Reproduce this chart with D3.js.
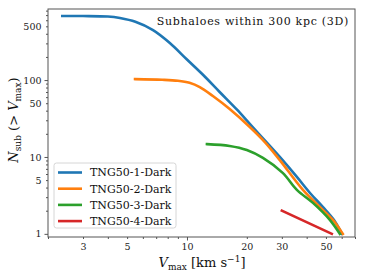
<!DOCTYPE html>
<html lang="en">
<head>
<meta charset="utf-8">
<title>Subhalo Vmax function</title>
<script src="https://cdn.jsdelivr.net/npm/d3@7"></script>
<style>
body { margin: 0; background: #fff; }
svg text { font-family: "DejaVu Serif", "DejaVu Sans", sans-serif; }
.axis path, .axis line { stroke: #555; }
.axis text { fill: #222; font-size: 9.5px; }
</style>
</head>
<body>
<div id="container"></div>
<script>
// data: Vmax [km/s] and N(>Vmax)
var seriesNames = ["TNG50-1-Dark", "TNG50-2-Dark", "TNG50-3-Dark", "TNG50-4-Dark"];
var seriesColors = ["#1f77b4", "#ff7f0e", "#2ca02c", "#d62728"];
var vmax1 = [2.36, 3.0, 4.0, 4.6, 5.5, 6.75, 8.2, 10, 12, 14.6, 17.8, 20.7, 24.7, 29.3, 35.7, 42, 48.2, 55, 60.1];
var nsub1 = [680, 680, 670, 640, 572, 446, 303, 185, 118, 70, 41.5, 27, 16.3, 10, 5.5, 3.3, 2.24, 1.5, 1];
var vmax2 = [5.48, 7.5, 9.0, 10.3, 11.6, 13.5, 16.4, 20.7, 24.7, 29.3, 38.3, 48.2, 55, 60.8];
var nsub2 = [103, 101, 98, 92, 81, 62, 42, 24.5, 15.5, 9.1, 3.73, 2.05, 1.45, 1];
var vmax3 = [12.6, 16.4, 20.0, 24.1, 30.3, 35.7, 43.0, 52.3, 58.7];
var nsub3 = [14.7, 13.9, 12.3, 9.7, 6.2, 3.73, 2.53, 1.52, 1];
var vmax4 = [30.0, 53.5];
var nsub4 = [2.0, 1.0];
var xLabelTicks = [3, 5, 10, 20, 30, 50];
var yLabelTicks = [1, 5, 10, 50, 100, 500];

var w = 365, h = 279;
var m = {left: 48, right: 10, top: 9, bottom: 42};
var svg = d3.select("#container").append("svg").attr("width", w).attr("height", h);

var x = d3.scaleLog().domain([2.0, 70]).range([m.left, w - m.right]);
var y = d3.scaleLog().domain([0.91, 840]).range([h - m.bottom, m.top]);

var series = [[vmax1, nsub1], [vmax2, nsub2], [vmax3, nsub3], [vmax4, nsub4]];

function minors(lo, hi) {
  var out = [];
  for (var e = Math.floor(Math.log10(lo)); e <= Math.ceil(Math.log10(hi)); e++) {
    for (var k = 2; k < 10; k++) {
      var v = k * Math.pow(10, e);
      if (v >= lo && v <= hi) out.push(v);
    }
  }
  return out;
}
var xMinor = minors(2, 70);
var xMajor = [10];
var yMinor = minors(1, 840);
var yMajor = [1, 10, 100];
function fmt(list) { return function(d) { return list.indexOf(d) >= 0 ? String(d) : ""; }; }

var gx = svg.append("g").attr("class", "axis").attr("transform", "translate(0," + (h - m.bottom) + ")");
gx.append("g").call(d3.axisBottom(x).tickValues(xMinor).tickSize(2).tickPadding(4.5).tickFormat(fmt(xLabelTicks)));
gx.append("g").call(d3.axisBottom(x).tickValues(xMajor).tickSize(3.5).tickPadding(3).tickFormat(fmt(xLabelTicks)));
var gy = svg.append("g").attr("class", "axis").attr("transform", "translate(" + m.left + ",0)");
gy.append("g").call(d3.axisLeft(y).tickValues(yMinor).tickSize(2).tickPadding(4.5).tickFormat(fmt(yLabelTicks)));
gy.append("g").call(d3.axisLeft(y).tickValues(yMajor).tickSize(3.5).tickPadding(3).tickFormat(fmt(yLabelTicks)));
svg.selectAll(".axis path.domain").remove();

var line = d3.line().x(function(d) { return x(d[0]); }).y(function(d) { return y(d[1]); }).curve(d3.curveCatmullRom.alpha(0.5));
svg.append("g").selectAll("path").data(series).enter().append("path")
  .attr("d", function(s) { return line(s[0].map(function(v, i) { return [v, s[1][i]]; })); })
  .attr("fill", "none")
  .attr("stroke", function(s, i) { return seriesColors[i]; })
  .attr("stroke-width", 2.6)
  .attr("stroke-linecap", "square");

// frame
svg.append("rect").attr("x", m.left).attr("y", m.top)
  .attr("width", w - m.left - m.right).attr("height", h - m.top - m.bottom)
  .attr("fill", "none").attr("stroke", "#555").attr("stroke-width", 1);

// annotation
svg.append("text").attr("x", w - m.right - 6).attr("y", 24.5).attr("text-anchor", "end")
  .attr("font-size", 11).attr("letter-spacing", 0.7).attr("fill", "#111").text("Subhaloes within 300 kpc (3D)");

// legend
var lg = svg.append("g").attr("transform", "translate(54,163)");
lg.append("rect").attr("width", 122).attr("height", 65).attr("rx", 2.5)
  .attr("fill", "#fff").attr("fill-opacity", 0.8).attr("stroke", "#ccc").attr("stroke-width", 0.8);
var rows = lg.selectAll("g.row").data(seriesNames).enter().append("g")
  .attr("transform", function(d, i) { return "translate(0," + (9.5 + i * 16.2) + ")"; });
rows.append("line").attr("x1", 4).attr("x2", 28).attr("stroke-width", 2.6)
  .attr("stroke", function(d, i) { return seriesColors[i]; });
rows.append("text").attr("x", 36).attr("dy", "0.35em").attr("font-size", 11).attr("fill", "#111").text(function(d) { return d; });

// axis labels
var xl = svg.append("text").attr("x", 202).attr("y", 267).attr("text-anchor", "middle").attr("font-size", 13).attr("fill", "#111");
xl.append("tspan").attr("font-style", "italic").text("V");
xl.append("tspan").attr("font-size", 9).attr("dy", 3).text("max");
xl.append("tspan").attr("dy", -3).text(" [km s");
xl.append("tspan").attr("font-size", 9).attr("dy", -5).text("\u22121");
xl.append("tspan").attr("dy", 5).text("]");

var yl = svg.append("text").attr("transform", "translate(18,120) rotate(-90)").attr("text-anchor", "middle").attr("font-size", 13).attr("fill", "#111");
yl.append("tspan").attr("font-style", "italic").text("N");
yl.append("tspan").attr("font-size", 9).attr("dy", 3).text("sub");
yl.append("tspan").attr("dy", -3).text(" (> ");
yl.append("tspan").attr("font-style", "italic").text("V");
yl.append("tspan").attr("font-size", 9).attr("dy", 3).text("max");
yl.append("tspan").attr("dy", -3).text(")");
</script>
</body>
</html>
